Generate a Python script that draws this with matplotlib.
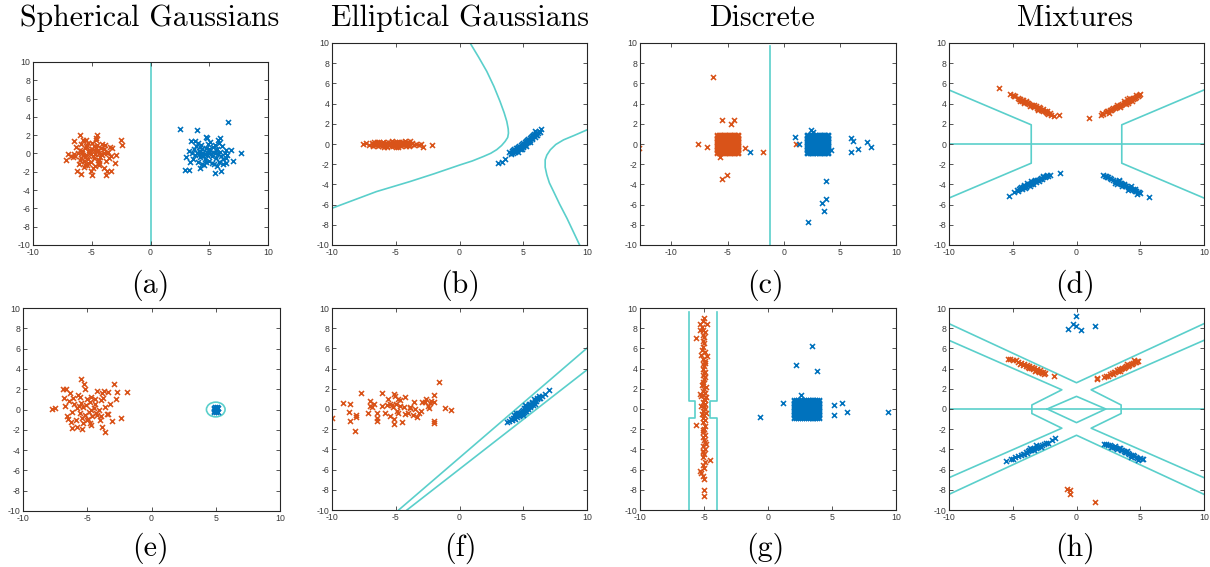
import numpy as np
import matplotlib
matplotlib.use("Agg")
import matplotlib.pyplot as plt
from matplotlib.patches import Ellipse

plt.rcParams['axes.unicode_minus'] = False

ORANGE = '#D95319'
BLUE = '#0072BD'
CYAN = '#5ACFCB'

titles = ["Spherical Gaussians", "Elliptical Gaussians", "Discrete", "Mixtures"]
labels = ["(a)", "(b)", "(c)", "(d)", "(e)", "(f)", "(g)", "(h)"]

# ---------------- (a) ----------------
a_orange = [(-5.97,2.03),(-4.52,2.03),(-2.48,1.49),(-2.40,0.94),(-6.51,1.38),(-7.16,-0.69),(-7.02,-0.07),(-6.26,-1.96),(-5.89,-2.21),(-5.04,-1.96),(-4.95,-2.32),(-3.82,-2.32),(-3.71,-1.96),(-3.33,-1.96),(-3.05,-1.05),(-2.91,-0.14),(-3.48,0.76),(-3.25,0.58),(-4.61,1.67),(-4.67,1.49),(-5.74,1.49),(-5.46,1.49),(-5.38,-1.23),(-5.60,-1.23),(-4.41,-1.23),(-4.41,-0.69),
(-6.6,-0.4),(-6.4,-0.3),(-6.2,0.1),(-6.0,0.4),(-5.9,-0.5),(-5.8,0.3),(-5.7,-0.8),(-5.6,0.6),(-5.5,-0.2),(-5.4,0.9),(-5.3,-0.6),(-5.2,0.2),(-5.1,-0.9),(-5.0,0.5),(-4.9,-0.3),(-4.8,0.8),(-4.7,-0.1),(-4.6,0.3),(-4.5,-0.7),(-4.4,0.1),(-4.3,-0.4),(-4.2,0.6),(-4.1,-0.2),(-4.0,0.0),(-3.9,0.9),(-3.8,-0.8),(-3.6,0.2),(-3.5,-0.5),(-6.3,0.7),(-6.1,-1.1),(-5.95,1.0),(-5.65,-1.5),(-5.35,1.2),(-5.15,0.0),(-4.95,1.1),(-4.75,-1.4),(-4.55,0.9),(-4.35,-1.0),(-4.15,1.0),(-3.95,-1.6),(-5.85,0.1),(-5.55,-0.4),(-5.25,0.4),(-4.85,-0.5),(-4.65,0.6),(-4.25,-0.1),(-6.8,-0.3),(-6.5,-0.1),(-5.05,-0.1),(-4.45,0.4),(-5.75,-0.2),(-4.0,0.5),(-3.7,0.0),(-5.3,-1.0),(-6.0,-0.7),(-4.9,-1.6),(-5.5,0.8),(-3.4,-0.3)]
a_blue = [(2.54,2.68),(3.99,2.57),(6.60,3.48),(7.73,0.04),(7.02,-0.87),(6.88,0.33),(6.45,0.4),(2.96,-1.78),(3.25,-1.85),(2.99,-0.43),(4.18,-1.59),(5.46,-2.14),(6.03,-1.96),(5.74,1.49),(5.89,1.67),(4.75,1.85),(4.83,1.67),(3.76,1.41),(3.42,1.41),(6.45,-1.05),(6.40,-0.5),
(3.5,0.1),(3.6,-0.6),(3.7,0.5),(3.8,-0.2),(3.9,0.8),(4.0,-0.9),(4.1,0.3),(4.2,-0.4),(4.3,0.9),(4.4,-1.1),(4.5,0.1),(4.6,-0.6),(4.7,0.6),(4.8,-0.2),(4.9,1.0),(5.0,-0.8),(5.1,0.4),(5.2,-0.3),(5.3,0.7),(5.4,-1.2),(5.5,0.0),(5.6,-0.5),(5.7,0.5),(5.8,-0.9),(5.9,0.2),(6.0,-0.3),(6.1,0.8),(6.2,-0.6),(6.3,0.1),(3.3,0.3),(3.4,-0.9),(4.05,1.2),(4.35,0.5),(4.55,-1.3),(4.85,0.2),(5.05,1.3),(5.25,-1.0),(5.45,0.9),(5.65,-1.4),(5.85,1.1),(6.55,-0.2),(4.15,-0.1),(4.65,-0.1),(5.15,-0.1),(5.35,0.2),(4.75,-0.9),(4.95,0.5),(5.75,-0.1),(3.95,0.0),(4.45,-0.3),(5.55,0.4),(6.15,-1.2),(4.25,0.7),(5.0,0.1)]
a_lines = [[(0,-10),(0,10)]]

# ---------------- (b) ----------------
b_orange = [(-7.56,0.0),(-7.3,0.05),(-7.1,-0.1),(-6.9,0.1),(-6.8,-0.2),(-6.7,0.15),(-6.6,-0.05),(-6.5,0.1),(-6.4,-0.15),(-6.3,0.2),(-6.2,0.0),(-6.1,-0.2),(-6.0,0.15),(-5.9,-0.1),(-5.8,0.1),(-5.7,-0.25),(-5.6,0.2),(-5.5,0.0),(-5.4,-0.15),(-5.3,0.25),(-5.2,-0.05),(-5.1,0.1),(-5.0,-0.3),(-4.9,0.2),(-4.8,-0.1),(-4.7,0.05),(-4.6,-0.2),(-4.5,0.15),(-4.4,-0.05),(-4.3,0.25),(-4.2,-0.15),(-4.1,0.1),(-4.0,-0.1),(-3.9,0.3),(-3.85,0.0),(-3.6,-0.1),(-3.4,0.0),(-3.2,-0.05),(-2.84,-0.25),(-2.19,-0.1),(-6.75,0.0),(-6.25,-0.1),(-5.75,0.05),(-5.25,-0.2),(-4.75,0.2),(-4.25,0.0),(-5.05,0.15),(-5.55,-0.1),(-6.05,0.05),(-4.55,0.0),(-4.05,0.2),(-5.35,0.05),(-4.85,-0.25),(-6.45,0.2),(-5.95,-0.25),(-3.95,-0.2),(-3.75,0.1),(-3.0,0.0),(-5.15,-0.1),(-4.65,0.1)]
b_blue = [(3.0,-1.9),(3.3,-1.8),(3.6,-1.5),(3.9,-0.8),(4.0,-1.0),(4.1,-0.7),(4.2,-0.9),(4.3,-0.5),(4.35,-0.8),(4.4,-0.4),(4.5,-0.6),(4.55,-0.3),(4.6,-0.5),(4.7,-0.2),(4.75,-0.45),(4.8,-0.1),(4.85,-0.3),(4.9,0.0),(4.95,-0.25),(5.0,0.1),(5.05,-0.1),(5.1,0.2),(5.15,0.0),(5.2,0.3),(5.25,0.05),(5.3,0.4),(5.35,0.15),(5.4,0.5),(5.45,0.25),(5.5,0.6),(5.55,0.35),(5.6,0.7),(5.7,0.5),(5.8,0.9),(5.9,0.7),(6.0,1.1),(6.1,0.9),(6.2,1.3),(6.3,1.2),(6.4,1.5),(4.25,-0.65),(4.65,-0.35),(5.0,-0.15),(5.3,0.2),(5.65,0.55),(4.45,-0.7),(5.85,1.0),(6.15,1.05),(4.05,-0.85),(5.75,0.75),
          (4.2,-0.55),(4.5,-0.35),(4.8,-0.45),(5.1,-0.05),(5.4,0.3),(5.7,0.8),(6.0,0.9),(4.6,-0.75),(4.9,-0.5),(5.2,-0.15),(5.5,0.15),(5.95,1.25)]
b_lines = [[(0.83,10),(1.5,8.6),(2.14,7.19),(2.7,5.7),(3.18,4.21),(3.5,3.1),(3.71,2.23),(3.82,1.5),(3.84,1.07),(3.78,0.65),(3.58,0.26),(3.3,-0.15),(2.92,-0.56),(2.45,-0.92),(1.87,-1.24),(1.0,-1.68),(0.04,-2.07),(-2.0,-2.95),(-3.89,-3.72),(-6.51,-4.71),(-10,-6.36)],
           [(10,1.40),(9.0,0.85),(8.16,0.41),(7.55,-0.05),(7.12,-0.58),(6.85,-1.1),(6.72,-1.57),(6.72,-2.3),(6.85,-3.06),(7.05,-3.85),(7.38,-4.71),(7.85,-5.95),(8.43,-7.36),(9.42,-10)]]

# ---------------- (c) ----------------
c_orange_grid_x = [-5.95,-5.8,-5.65,-5.5,-5.35,-5.2,-5.05,-4.9,-4.75,-4.6,-4.45,-4.3,-4.15,-4.05]
c_orange_grid_y = [-0.9,-0.75,-0.6,-0.45,-0.3,-0.15,0.0,0.15,0.3,0.45,0.6,0.75,0.9]
c_orange = [(-12.9,-0.41),(-7.67,0.0),(-6.87,-0.25),(-6.27,6.6),(-5.49,2.4),(-4.69,1.97),(-4.45,2.4),(-5.64,-1.24),(-5.49,-3.45),(-5.04,-3.06),(-3.49,-0.41),(-1.85,-0.81),(1.13,0.0)]
c_blue_grid_x = [2.05,2.2,2.35,2.5,2.65,2.8,2.95,3.1,3.25,3.4,3.55,3.7,3.85,3.95]
c_blue_grid_y = [-0.9,-0.75,-0.6,-0.45,-0.3,-0.15,0.0,0.15,0.3,0.45,0.6,0.75,0.9]
c_blue = [(0.99,0.74),(1.37,0.0),(2.42,1.34),(2.63,1.14),(4.21,-0.64),(6.0,0.58),(6.21,0.31),(5.97,-0.81),(6.6,-0.48),(7.4,0.18),(7.79,-0.25),(3.76,-3.62),(3.76,-5.44),(3.37,-5.86),(3.58,-6.63),(2.18,-7.69),(-3.04,-0.81)]
c_lines = [[(-1.22,-10),(-1.22,9.75)]]

# ---------------- (d) ----------------
d_orange = [(-6.1,5.5),(-5.2,5.0),(-5.0,4.9),(-4.9,4.8),(-4.8,4.75),(-4.6,4.6),(-4.5,4.5),(-4.4,4.45),(-4.3,4.35),(-4.2,4.4),(-4.1,4.2),(-4.0,4.3),(-3.9,4.05),(-3.8,4.1),(-3.7,3.95),(-3.6,3.9),(-3.5,3.85),(-3.4,3.8),(-3.3,3.7),(-3.2,3.75),(-3.1,3.6),(-3.0,3.5),(-2.9,3.55),(-2.8,3.4),(-2.7,3.35),(-2.6,3.3),(-2.5,3.25),(-2.4,3.15),(-2.3,3.1),(-2.2,3.0),(-2.1,3.05),(-2.0,2.9),(-1.8,2.8),(-1.4,2.85),(-4.25,4.25),(-3.95,4.2),(-3.65,3.8),(-3.35,3.9),(-2.95,3.65),(-2.65,3.45),(-4.45,4.3),(-4.15,4.1),(-3.05,3.4),(-2.35,3.3),
            (1.0,2.6),(1.9,2.9),(2.0,3.1),(2.1,3.0),(2.3,3.2),(2.4,3.3),(2.5,3.25),(2.6,3.4),(2.7,3.35),(2.8,3.5),(2.9,3.55),(3.0,3.6),(3.1,3.7),(3.2,3.65),(3.3,3.8),(3.4,3.85),(3.5,3.9),(3.6,4.0),(3.7,4.05),(3.8,4.1),(3.9,4.2),(4.0,4.25),(4.1,4.3),(4.2,4.4),(4.3,4.45),(4.4,4.5),(4.5,4.55),(4.6,4.6),(4.7,4.7),(4.8,4.8),(4.9,4.85),(5.0,5.0),(3.15,3.85),(3.45,3.7),(3.75,4.25),(4.05,4.05),(3.95,4.45),(4.35,4.3),(2.55,3.1),(3.85,3.95),(4.15,4.55),(4.65,4.85)]
d_blue = [(-5.3,-5.1),(-4.9,-4.75),(-4.7,-4.6),(-4.6,-4.65),(-4.5,-4.5),(-4.4,-4.4),(-4.3,-4.45),(-4.2,-4.3),(-4.1,-4.2),(-4.0,-4.25),(-3.9,-4.1),(-3.8,-4.05),(-3.7,-3.95),(-3.6,-4.0),(-3.5,-3.85),(-3.4,-3.8),(-3.3,-3.7),(-3.2,-3.75),(-3.1,-3.6),(-3.0,-3.55),(-2.9,-3.5),(-2.8,-3.4),(-2.7,-3.45),(-2.6,-3.3),(-2.5,-3.25),(-2.4,-3.2),(-2.3,-3.1),(-2.2,-3.15),(-2.1,-3.05),(-1.3,-2.9),(-4.15,-4.05),(-3.85,-3.85),(-3.55,-3.7),(-3.25,-3.55),(-2.95,-3.65),(-3.65,-4.15),(-4.35,-4.25),(-2.65,-3.2),(-3.45,-3.95),(-4.05,-4.4),
          (2.1,-3.1),(2.2,-3.2),(2.3,-3.15),(2.4,-3.3),(2.5,-3.25),(2.6,-3.4),(2.7,-3.5),(3.0,-3.65),(3.1,-3.7),(3.2,-3.75),(3.3,-3.65),(3.4,-3.9),(3.5,-3.85),(3.6,-4.0),(3.7,-4.1),(3.8,-4.2),(3.9,-4.15),(4.0,-4.3),(4.1,-4.35),(4.2,-4.4),(4.3,-4.5),(4.4,-4.45),(4.5,-4.6),(4.6,-4.7),(4.7,-4.65),(4.8,-4.8),(4.9,-4.75),(5.0,-4.9),(5.7,-5.2),(3.05,-3.9),(3.35,-3.6),(3.75,-3.95),(4.05,-4.55),(4.25,-4.2),(4.55,-4.45),(3.15,-3.95),(3.55,-4.15),(4.75,-4.95),(2.85,-3.6)]
d_lines = [[(-10,0),(10,0)],
           [(-10,5.35),(-3.55,1.9),(-3.55,-1.9),(-10,-5.35)],
           [(10,5.35),(3.55,1.9),(3.55,-1.9),(10,-5.35)]]

# ---------------- (e) ----------------
e_orange = [(-5.52,3.0),(-5.26,2.51),(-5.21,2.02),(-6.87,2.02),(-6.69,2.02),(-2.91,2.51),(-1.92,1.72),(-2.70,1.72),(-3.35,1.76),(-3.69,1.79),(-3.82,1.66),(-4.21,1.86),(-6.35,1.59),(-6.82,1.17),(-5.57,1.2),(-4.73,1.2),(-4.42,1.03),(-3.95,0.97),(-3.74,1.1),(-2.78,1.0),(-3.25,0.54),(-7.73,0.08),(-7.52,0.15),(-6.74,0.34),(-6.61,-0.64),(-6.30,-1.26),(-6.17,-1.86),(-5.83,-1.69),(-5.38,-1.95),(-3.82,-1.76),(-3.61,-2.25),(-3.04,-1.1),(-2.39,-0.84),(-3.38,-0.44),(-4.21,-0.54),(-4.68,-1.53),(-5.0,-1.03),(-4.81,-1.30),
            (-6.0,0.5),(-5.8,0.1),(-5.6,-0.3),(-5.5,0.6),(-5.4,-0.8),(-5.3,0.2),(-5.2,-0.5),(-5.1,0.4),(-4.9,-0.2),(-4.8,0.7),(-4.6,-0.6),(-4.5,0.1),(-4.3,-0.3),(-4.1,0.0),(-3.9,-0.6),(-3.6,0.2),(-6.2,-0.2),(-6.4,0.8),(-5.9,-1.0),(-5.7,1.4),(-5.0,1.0),(-4.4,0.5),(-4.0,-1.0),(-3.5,-0.4),(-6.1,1.1),(-5.35,-1.3),(-4.95,-0.9),(-6.5,-0.9),(-4.7,0.0),(-5.65,0.3)]
e_blue = [(4.85,-0.15),(4.9,0.1),(4.95,-0.05),(5.0,0.15),(5.05,-0.1),(5.1,0.05),(5.15,-0.2),(4.9,-0.2),(5.0,0.0),(5.1,0.2),(4.85,0.05),(5.15,0.1),(5.05,0.1),(4.95,0.2),(5.0,-0.2)]
e_ellipse_center = (5.0, 0.0)
e_ellipse_size = (1.45, 1.45)

# ---------------- (f) ----------------
f_orange = [(-10.0,-0.91),(-9.14,0.64),(-8.56,0.48),(-8.69,-0.25),(-8.61,-1.14),(-8.12,-0.58),(-8.12,-0.81),(-8.17,-2.13),(-7.70,1.54),(-7.05,0.84),(-7.0,0.31),(-7.2,-0.41),(-6.47,-0.91),(-6.47,-1.14),(-6.08,1.57),(-6.08,0.31),(-5.16,1.5),(-5.03,1.24),(-4.85,0.98),(-5.11,-1.0),(-5.11,-1.47),(-4.51,-1.24),(-4.25,1.14),(-4.64,0.91),(-5.63,0.98),(-1.63,2.63),(-1.11,0.08),(-0.67,-0.08),(-2.03,0.68),(-2.03,1.40),(-1.97,-1.14),(-2.03,-1.34),(-2.42,0.08),(-2.68,0.74),(-2.94,0.74),(-3.20,-0.35),(-3.33,-0.81),(-3.65,-0.58),(-3.86,0.08),(-4.04,-0.35),(-4.33,0.18),(-5.42,0.51),(-5.69,0.41),(-5.82,-0.41),(-5.42,-0.74),(-4.85,-0.41),(-4.69,0.31),(-3.59,0.74),(-2.60,0.98),(-2.24,0.84),(-6.73,0.51),(-6.86,0.18),(-6.47,-0.41),
            (-5.3,0.4),(-5.2,0.2),(-5.0,0.5),(-4.9,-0.2),(-4.3,-0.5),(-3.9,0.2),(-3.5,0.0),(-3.0,-0.2),(-2.3,0.6),(-2.5,0.3)]
f_blue = [(3.7,-1.3),(3.9,-1.15),(4.0,-1.0),(4.1,-1.05),(4.2,-0.85),(4.3,-0.9),(4.4,-0.7),(4.45,-0.55),(4.5,-0.75),(4.6,-0.5),(4.7,-0.35),(4.75,-0.6),(4.8,-0.3),(4.9,-0.15),(4.95,-0.4),(5.0,-0.1),(5.05,0.05),(5.1,-0.2),(5.15,0.1),(5.2,0.0),(5.25,0.25),(5.3,0.1),(5.35,0.3),(5.4,0.15),(5.45,0.45),(5.5,0.3),(5.55,0.5),(5.6,0.35),(5.7,0.6),(5.8,0.55),(5.9,0.8),(6.0,0.75),(6.1,1.0),(6.2,1.1),(6.3,1.05),(6.5,1.3),(6.7,1.5),(7.0,1.9),(4.85,-0.5),(5.35,0.0),(5.65,0.7),(4.55,-0.35),(5.05,-0.3),(5.75,0.4),(6.05,1.1),(4.25,-0.6),
          (4.35,-0.95),(4.65,-0.7),(4.95,-0.55),(5.25,-0.15),(5.55,0.15),(5.85,0.95),(6.25,1.3),(5.15,0.35),(4.45,-0.35),(5.95,0.5)]
f_lines = [[(-4.77,-10),(10,6.03)], [(-4.12,-10),(10,3.88)]]

# ---------------- (g) ----------------
g_orange = [(-5.0,9.0),(-5.05,8.7),(-5.3,8.4),(-4.8,8.4),(-5.15,8.1),(-5.3,7.8),(-5.1,7.8),(-4.9,7.6),(-5.05,7.3),(-5.6,7.0),(-5.0,7.1),(-5.1,6.7),(-5.0,6.5),(-5.05,6.1),(-5.15,5.8),(-4.95,5.6),(-5.2,5.3),(-4.8,5.2),(-5.05,5.0),(-4.9,4.8),(-5.1,4.5),(-5.0,4.3),(-5.05,4.0),(-4.95,3.7),(-5.1,3.4),(-4.9,3.2),(-5.0,3.0),(-5.05,2.7),(-5.15,2.4),(-4.85,2.2),(-5.0,2.0),(-5.1,1.8),(-4.9,1.6),(-5.3,1.5),(-5.2,1.3),(-4.85,1.2),(-5.0,1.0),(-5.1,0.7),(-4.9,0.5),(-5.25,0.3),(-5.0,0.2),(-4.95,0.0),(-5.1,-0.2),(-4.85,-0.4),(-5.0,-0.6),(-5.05,-0.9),(-4.95,-1.1),(-5.1,-1.3),(-5.6,-1.6),(-4.9,-1.7),(-5.0,-2.0),(-5.05,-2.3),(-4.95,-2.6),(-5.1,-2.8),(-5.0,-3.1),(-4.85,-3.5),(-5.05,-3.7),(-4.9,-4.0),(-5.1,-4.2),(-5.0,-4.5),(-4.5,-5.0),(-5.05,-4.8),(-4.95,-5.2),(-5.1,-5.5),(-5.0,-5.8),(-5.3,-6.1),(-5.2,-6.3),(-5.05,-6.6),(-5.0,-6.9),(-5.0,-8.0),(-5.0,-8.6),(-5.05,1.4),(-4.95,0.9),(-5.15,-0.5),(-5.05,2.5),(-4.95,-3.3),(-5.0,3.6),(-5.1,-2.1),(-4.95,4.6),(-5.05,-4.3)]
g_blue_grid_x = [2.05,2.2,2.35,2.5,2.65,2.8,2.95,3.1,3.25,3.4,3.55,3.7,3.85,3.95]
g_blue_grid_y = [-0.9,-0.75,-0.6,-0.45,-0.3,-0.15,0.0,0.15,0.3,0.45,0.6,0.75,0.85]
g_blue = [(-0.63,-0.81),(1.2,0.55),(2.19,4.38),(2.58,1.34),(3.41,6.2),(3.80,3.79),(5.18,0.35),(5.18,-0.64),(5.81,0.55),(6.15,-0.25),(9.35,-0.25)]
g_lines = [[(-6.2,9.65),(-6.2,0.82),(-5.7,0.82),(-5.7,-0.92),(-6.2,-0.92),(-6.2,-10)],
           [(-4.0,9.65),(-4.0,0.82),(-4.55,0.82),(-4.55,-0.92),(-4.0,-0.92),(-4.0,-10)]]

# ---------------- (h) ----------------
h_orange = [(-5.36,4.97),(-5.2,4.95),(-5.0,4.85),(-4.76,4.81),(-4.6,4.65),(-4.37,4.55),(-4.2,4.4),(-4.1,4.45),(-4.0,4.3),(-3.9,4.35),(-3.8,4.2),(-3.7,4.25),(-3.6,4.1),(-3.5,4.15),(-3.4,4.0),(-3.32,4.05),(-3.2,3.9),(-3.1,3.95),(-3.0,3.8),(-2.9,3.85),(-2.8,3.7),(-2.7,3.6),(-2.6,3.65),(-2.54,3.49),(-2.45,3.55),(-1.75,3.22),(-3.75,4.05),(-3.25,3.8),(-4.45,4.45),(-2.95,3.65),
            (1.59,2.96),(1.6,3.05),(2.17,3.16),(2.3,3.25),(2.45,3.3),(2.6,3.45),(2.82,3.55),(2.95,3.65),(3.05,3.7),(3.15,3.85),(3.25,3.8),(3.35,3.95),(3.48,3.98),(3.6,4.05),(3.7,4.1),(3.8,4.2),(3.9,4.25),(4.0,4.3),(4.13,4.38),(4.25,4.45),(4.35,4.5),(4.45,4.6),(4.55,4.65),(4.65,4.7),(4.75,4.75),(4.84,4.78),(3.4,3.75),(3.95,4.45),(4.5,4.85),(2.9,3.45),
            (-0.71,-7.88),(-0.5,-8.02),(-0.5,-8.45),(1.46,-9.17)]
h_blue = [(-0.05,9.17),(-0.26,8.41),(-0.05,8.18),(-0.63,7.92),(0.34,7.79),(1.46,8.18),
          (-5.54,-5.14),(-5.15,-4.98),(-5.0,-4.95),(-4.8,-4.8),(-4.6,-4.7),(-4.37,-4.55),(-4.2,-4.45),(-4.0,-4.3),(-3.9,-4.35),(-3.8,-4.2),(-3.7,-4.1),(-3.58,-4.05),(-3.5,-3.95),(-3.4,-4.0),(-3.3,-3.85),(-3.2,-3.9),(-3.1,-3.75),(-3.0,-3.8),(-2.9,-3.7),(-2.8,-3.72),(-2.7,-3.55),(-2.55,-3.5),(-2.4,-3.4),(-2.27,-3.32),(-1.67,-2.89),(-1.9,-3.05),(-3.65,-3.85),(-3.15,-3.6),(-4.1,-4.5),(-3.35,-4.1),
          (2.17,-3.49),(2.3,-3.45),(2.45,-3.55),(2.6,-3.6),(2.82,-3.72),(2.95,-3.8),(3.1,-3.85),(3.2,-3.95),(3.3,-3.9),(3.48,-4.05),(3.6,-4.1),(3.7,-4.2),(3.8,-4.25),(3.9,-4.3),(4.0,-4.35),(4.1,-4.45),(4.26,-4.55),(4.4,-4.6),(4.5,-4.7),(4.65,-4.75),(4.78,-4.88),(4.95,-4.9),(5.1,-4.95),(5.25,-4.98),(3.4,-3.85),(3.95,-4.15),(4.3,-4.75),(4.85,-5.05),(3.0,-3.65),(2.7,-3.8)]
h_lines = [[(-10,0),(10,0)],
           [(-10,8.45),(0,2.6),(10,8.45)],
           [(-10,-8.45),(0,-2.6),(10,-8.45)],
           [(-10,6.8),(-1.15,1.9),(-3.5,0.4),(-3.5,-0.45),(-1.15,-1.9),(-10,-6.8)],
           [(10,6.8),(1.15,1.9),(3.5,0.4),(3.5,-0.45),(1.15,-1.9),(10,-6.8)],
           [(-2.3,0),(0,1.25),(2.3,0),(0,-1.35),(-2.3,0)]]

xlims = [(-10,10),(-10,10),(-12.8,10),(-10,10),(-10,10),(-10,10),(-10,10),(-10,10)]

W, H = 1210, 567
# axes boxes in pixels: left, right, top, bottom
boxes = [(33,268,62,245),(332,587,43,245),(640,896,43,245),(949,1204,43,245),
         (23,280,308,511),(332,587,308,510),(640,896,308,510),(949,1204,308,510)]
title_x = [150, 460, 762, 1075]
label_x = [150, 460, 765, 1075, 150, 460, 765, 1075]

fig = plt.figure(figsize=(W/100, H/100), dpi=100)


def pts(lst):
    arr = np.array(lst, dtype=float)
    return arr[:, 0], arr[:, 1]


def grid_pts(xs, ys):
    gx, gy = np.meshgrid(np.array(xs), np.array(ys))
    return gx.ravel(), gy.ravel()


MK = dict(linestyle='none', marker='x', markersize=3.6, markeredgewidth=1.15)

axes = []
for i, (l, r, t, b) in enumerate(boxes):
    ax = fig.add_axes([l/W, 1 - b/H, (r-l)/W, (b-t)/H])
    ax.set_xlim(*xlims[i])
    ax.set_ylim(-10, 10)
    ax.set_xticks([-10, -5, 0, 5, 10])
    ax.set_yticks(list(range(-10, 11, 2)))
    ax.tick_params(direction='in', top=True, right=True, length=3, width=0.6,
                   labelsize=6.3, colors='#3a3a3a', pad=2)
    for lab in ax.get_xticklabels() + ax.get_yticklabels():
        lab.set_fontfamily('Liberation Sans')
    for s in ax.spines.values():
        s.set_linewidth(0.8)
        s.set_color('#262626')
    axes.append(ax)

orange_sets = [a_orange, b_orange, c_orange, d_orange, e_orange, f_orange, g_orange, h_orange]
blue_sets = [a_blue, b_blue, c_blue, d_blue, e_blue, f_blue, g_blue, h_blue]
line_sets = [a_lines, b_lines, c_lines, d_lines, [], f_lines, g_lines, h_lines]

for i, ax in enumerate(axes):
    for seg in line_sets[i]:
        x, y = pts(seg)
        ax.plot(x, y, color=CYAN, lw=1.2, zorder=1, solid_joinstyle='round')
    if i == 2:
        gx, gy = grid_pts(c_orange_grid_x, c_orange_grid_y)
        ax.plot(gx, gy, color=ORANGE, **MK)
        gx, gy = grid_pts(c_blue_grid_x, c_blue_grid_y)
        ax.plot(gx, gy, color=BLUE, **MK)
    if i == 6:
        gx, gy = grid_pts(g_blue_grid_x, g_blue_grid_y)
        ax.plot(gx, gy, color=BLUE, **MK)
    x, y = pts(orange_sets[i])
    ax.plot(x, y, color=ORANGE, **MK)
    x, y = pts(blue_sets[i])
    ax.plot(x, y, color=BLUE, **MK)
    if i == 4:
        ax.add_patch(Ellipse(e_ellipse_center, e_ellipse_size[0], e_ellipse_size[1],
                             fill=False, edgecolor=CYAN, lw=1.2))

for j, t in enumerate(titles):
    fig.text(title_x[j]/W, 1 - 18/H, t, ha='center', va='center',
             fontfamily='cmr10', fontsize=21.5)
for j, t in enumerate(labels):
    y = 285 if j < 4 else 548
    fig.text(label_x[j]/W, 1 - y/H, t, ha='center', va='center',
             fontfamily='cmr10', fontsize=21.5)

fig.savefig('out.png', dpi=100)
